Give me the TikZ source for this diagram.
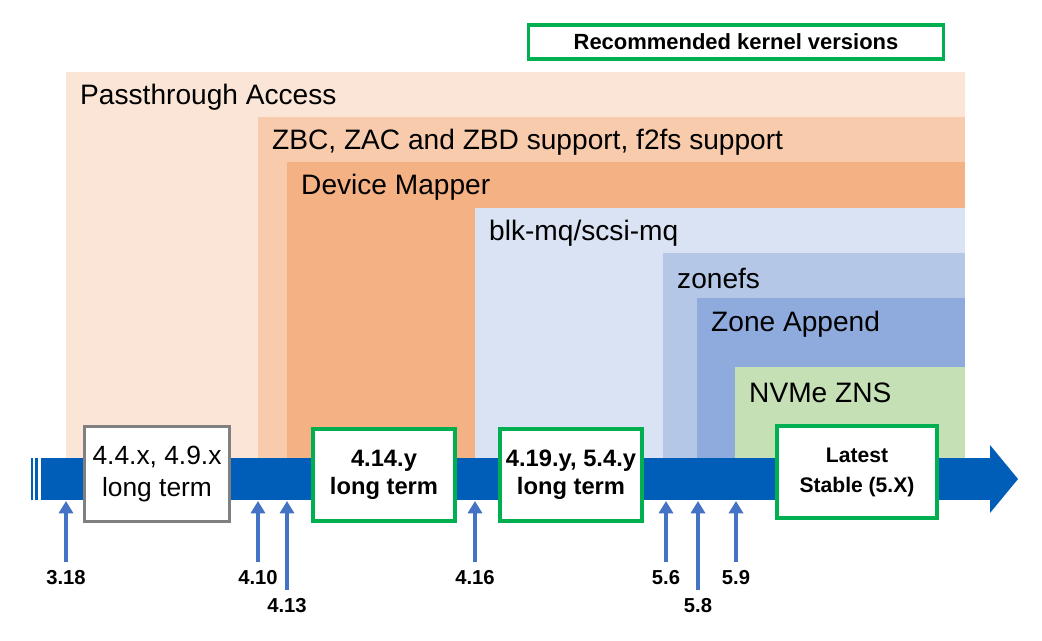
\documentclass[tikz,border=0pt]{standalone}
\usepackage{fontspec}
\setmainfont{Liberation Sans}
\usetikzlibrary{arrows.meta}
\definecolor{pass}{HTML}{FBE5D6}
\definecolor{zbc}{HTML}{F8CBAD}
\definecolor{dm}{HTML}{F4B183}
\definecolor{blk}{HTML}{DAE3F3}
\definecolor{zfs}{HTML}{B4C7E7}
\definecolor{zapp}{HTML}{8FAADC}
\definecolor{zns}{HTML}{C5E0B4}
\definecolor{bar}{HTML}{005EB8}
\definecolor{tick}{HTML}{4472C4}
\definecolor{rec}{HTML}{00B050}
\tikzset{
  layer/.style={anchor=west,font=\fontsize{16}{18}\selectfont},
  rel/.style={draw=rec,line width=2.2pt,fill=white,align=center,font=\bfseries\fontsize{13.5}{16}\selectfont},
  ver/.style={font=\bfseries\fontsize{11.5}{13}\selectfont},
  up/.style={-{Triangle[width=8pt,length=7pt]},tick,line width=2.2pt}
}
\begin{document}
\begin{tikzpicture}[x=0.02cm,y=-0.02cm]
\useasboundingbox (0,0) rectangle (1042,640);
% layers
\fill[pass] (66,72) rectangle (965,458);
\fill[zbc] (258,117) rectangle (965,458);
\fill[dm] (287,162) rectangle (965,458);
\fill[blk] (475,208) rectangle (965,458);
\fill[zfs] (663,253) rectangle (965,458);
\fill[zapp] (697,298) rectangle (965,458);
\fill[zns] (735,367) rectangle (965,458);
\node[layer] (passL) at (74,97) {Passthrough Access};
\node[layer] (zbcL) at (266,142) {ZBC, ZAC and ZBD support, f2fs support};
\node[layer] (dmL) at (295,187) {Device Mapper};
\node[layer] (blkL) at (483,233) {blk-mq/scsi-mq};
\node[layer] (zfsL) at (671,278) {zonefs};
\node[layer] (zappL) at (705,324) {Zone Append};
\node[layer] (znsL) at (743,393) {NVMe ZNS};
% time line
\fill[bar] (41,458) rectangle (990,500);
\fill[bar] (990,445) -- (1018,479) -- (990,513) -- cycle;
\fill[bar] (31,458) rectangle (33,500);
\fill[bar] (35,458) rectangle (38,500);
% releases
\node[draw=gray,line width=1.2pt,fill=white,align=center,
  font=\fontsize{15}{18}\selectfont,minimum width=2.9cm,minimum height=1.9cm] (lt44) at (157,474) {4.4.x, 4.9.x\\long term};
\node[rel,minimum width=2.85cm,minimum height=1.85cm] (lt414) at (384,475) {4.14.y\\long term};
\node[rel,minimum width=2.85cm,minimum height=1.85cm] (lt419) at (571,475) {4.19.y, 5.4.y\\long term};
\node[rel,minimum width=3.2cm,minimum height=1.85cm,font=\bfseries\fontsize{12}{17}\selectfont] (stable) at (857,472) {Latest\\Stable (5.X)};
\node[rel,minimum width=8.3cm,minimum height=0.68cm,line width=2pt,font=\bfseries\fontsize{12.5}{14}\selectfont] (recL) at (736,42) {Recommended kernel versions};
% versions
\foreach \x/\y/\t [count=\i] in {66/578/3.18,258/578/4.10,287/606/4.13,475/578/4.16,666/578/5.6,698/606/5.8,736/578/5.9}{
  \node[ver] (v\i) at (\x,\y) {\t};
  \coordinate (p\i) at (\x,501);
  \draw[up] (v\i.north) ++(0,-3) -- (p\i);
}
\end{tikzpicture}
\end{document}
